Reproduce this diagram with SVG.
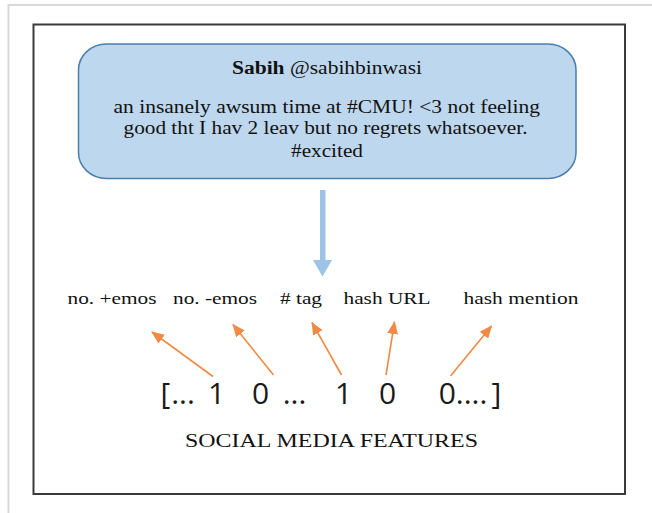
<svg xmlns="http://www.w3.org/2000/svg" width="652" height="513" viewBox="0 0 652 513">
<style>
.serif{font-family:"Liberation Serif","Times New Roman",serif;fill:#111;}
.lbl{font-size:17.5px;}
.tw{font-size:18px;font-family:"Liberation Serif","Times New Roman",serif;}
.vec{font-family:"Open Sans","Noto Sans",sans-serif;font-size:30px;fill:#1a1a1a;text-anchor:middle;}
.oarr{stroke:#F08A45;stroke-width:1.6;fill:none;marker-end:url(#oh);}
</style>
<defs>
<marker id="oh" viewBox="0 0 13 11" refX="12" refY="5.5" markerWidth="13" markerHeight="11" markerUnits="userSpaceOnUse" orient="auto">
<path d="M0,0 L13,5.5 L0,11 z" fill="#F08A45"/>
</marker>
</defs>
<rect width="652" height="513" fill="#fff"/>
<g id="page-border">
<line x1="8" y1="5" x2="652" y2="5" stroke="#d9d9d9" stroke-width="2"/>
<line x1="8.5" y1="4" x2="8.5" y2="513" stroke="#d9d9d9" stroke-width="2"/>
</g>
<g id="frame">
<rect x="33.5" y="24.5" width="591.5" height="469.5" fill="none" stroke="#3a3a3a" stroke-width="2"/>
</g>
<g id="tweet">
<rect x="78.5" y="44" width="497.5" height="134.5" rx="28" ry="26" fill="#BDD7EE" stroke="#4A7EAE" stroke-width="1.5"/>
<text class="serif tw" x="232" y="74" textLength="190" lengthAdjust="spacingAndGlyphs"><tspan font-weight="bold">Sabih</tspan> @sabihbinwasi</text>
<text class="serif tw" x="113.5" y="113" textLength="426.5" lengthAdjust="spacingAndGlyphs">an insanely awsum time at #CMU! &lt;3 not feeling</text>
<text class="serif tw" x="123.5" y="134" textLength="404" lengthAdjust="spacingAndGlyphs">good tht I hav 2 leav but no regrets whatsoever.</text>
<text class="serif tw" x="291" y="157" textLength="72" lengthAdjust="spacingAndGlyphs">#excited</text>
</g>
<g id="label-pos-emos"><text class="serif lbl" x="67.5" y="304" textLength="89" lengthAdjust="spacingAndGlyphs">no. +emos</text></g>
<g id="label-neg-emos"><text class="serif lbl" x="173" y="304" textLength="84" lengthAdjust="spacingAndGlyphs">no. -emos</text></g>
<g id="label-tag"><text class="serif lbl" x="280" y="304" textLength="42" lengthAdjust="spacingAndGlyphs"># tag</text></g>
<g id="label-url"><text class="serif lbl" x="343.5" y="304" textLength="87" lengthAdjust="spacingAndGlyphs">hash URL</text></g>
<g id="label-mention"><text class="serif lbl" x="463.5" y="304" textLength="115" lengthAdjust="spacingAndGlyphs">hash mention</text></g>
<g id="vector">
<text class="vec" y="403.5"><tspan x="165.5">[</tspan><tspan x="183">...</tspan><tspan x="216.5">1</tspan><tspan x="260.5">0</tspan><tspan x="294.5">...</tspan><tspan x="343.5">1</tspan><tspan x="387.5">0</tspan><tspan x="463">0....</tspan><tspan x="496.5">]</tspan></text>
</g>
<g id="caption">
<text class="serif" x="185" y="447" font-size="18.5" textLength="293" lengthAdjust="spacingAndGlyphs">SOCIAL MEDIA FEATURES</text>
</g>
<g id="connectors">
<g id="blue-arrow" fill="#9DC3E6">
<rect x="320" y="190" width="5.5" height="71"/>
<path d="M313,260 L332,260 L322.5,276.5 z"/>
</g>
<line class="oarr" x1="213" y1="376.5" x2="152" y2="332"/>
<line class="oarr" x1="273.5" y1="375" x2="233" y2="324.5"/>
<line class="oarr" x1="341.5" y1="375" x2="312" y2="322.5"/>
<line class="oarr" x1="386" y1="375" x2="394.5" y2="322"/>
<line class="oarr" x1="450.5" y1="376" x2="491.5" y2="326"/>
</g>
</svg>
